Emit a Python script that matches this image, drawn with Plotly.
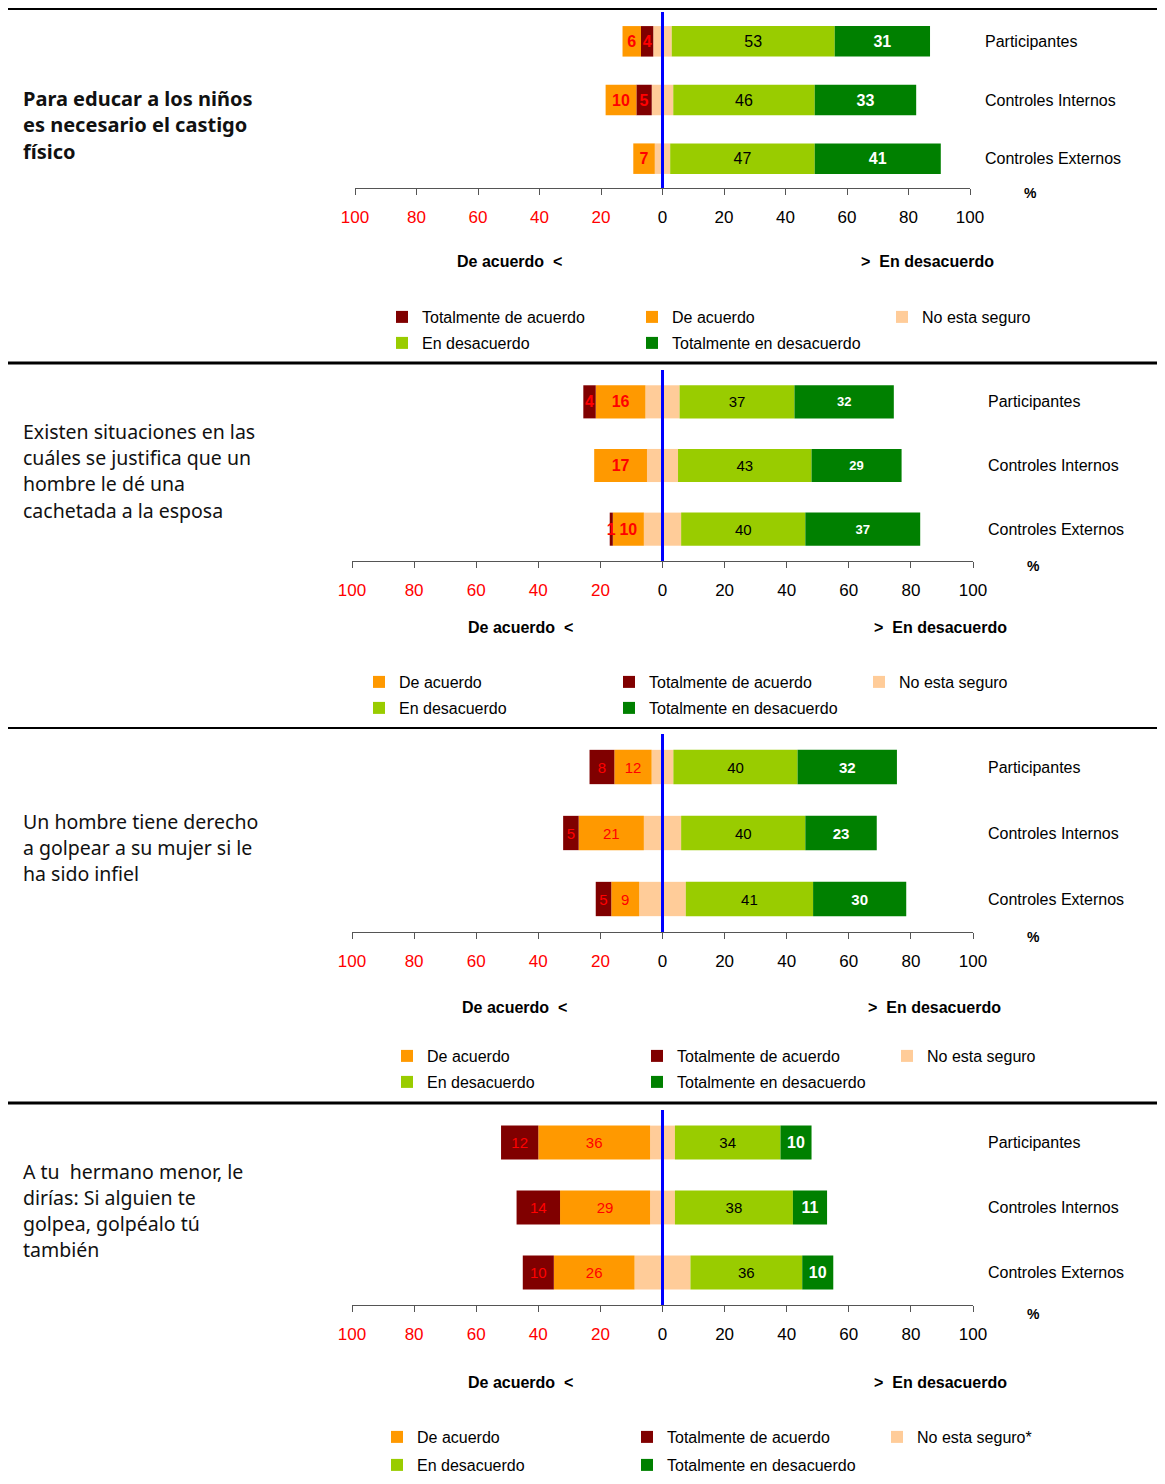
import plotly.graph_objects as go

# ---- data -------------------------------------------------------------
categories = ["Participantes", "Controles Internos", "Controles Externos"]

titles = [
    ["Para educar a los niños", "es necesario el castigo", "físico"],
    ["Existen situaciones en las", "cuáles se justifica que un",
     "hombre le dé una", "cachetada a la esposa"],
    ["Un hombre tiene derecho", "a golpear a su mujer si le", "ha sido infiel"],
    ["A tu  hermano menor, le", "dirías: Si alguien te",
     "golpea, golpéalo tú", "también"],
]

# Totalmente de acuerdo / De acuerdo / No esta seguro / En desacuerdo / Totalmente en desacuerdo
tot_acuerdo = [[4, 5, 0], [4, 0, 1], [8, 5, 5], [12, 14, 10]]
de_acuerdo = [[6, 10, 7], [16, 17, 10], [12, 21, 9], [36, 29, 26]]
no_seguro = [[6, 7, 5], [11, 10, 12], [7, 12, 15], [8, 8, 18]]
en_desacuerdo = [[53, 46, 47], [37, 43, 40], [40, 40, 41], [34, 38, 36]]
tot_desacuerdo = [[31, 33, 41], [32, 29, 37], [32, 23, 30], [10, 11, 10]]

unsure_names = ["No esta seguro", "No esta seguro", "No esta seguro", "No esta seguro*"]

tick_vals = [-100, -80, -60, -40, -20, 0, 20, 40, 60, 80, 100]
tick_text = ["100", "80", "60", "40", "20", "0", "20", "40", "60", "80", "100"]

# ---- styling / layout -------------------------------------------------
OFF = 8  # the page body adds an 8px margin around the figure
W, H = 1165 - OFF, 1484 - OFF
C_TOT_AC = "#800000"
C_AC = "#FF9900"
C_NS = "#FFCC99"
C_DES = "#99CC00"
C_TOT_DES = "#008000"
RED = "#FF0000"
FONT = "Liberation Sans, Arial, sans-serif"
TFONT = "Noto Sans, DejaVu Sans, sans-serif"

# pixel geometry of each panel (page coordinates)
panels = [
    dict(x0=355, x1=970, y0=12, y1=188, inner_dark=True, bold=True,
         title_y=98, step=27, lab_y=261, ac_x=509, des_x=927, pct=(1030, 193),
         leg_y=(317, 343), leg_x=382,
         fs_left=16, bold_left=True, fs_des=16, fs_tot=16),
    dict(x0=352, x1=973, y0=370, y1=561, inner_dark=False, bold=False,
         title_y=431, step=26.5, lab_y=628, ac_x=520, des_x=940, pct=(1033, 566),
         leg_y=(682, 708), leg_x=359,
         fs_left=16, bold_left=True, fs_des=15, fs_tot=13),
    dict(x0=352, x1=973, y0=734, y1=932, inner_dark=False, bold=False,
         title_y=821, step=26, lab_y=1007, ac_x=514, des_x=934, pct=(1033, 937),
         leg_y=(1056, 1082), leg_x=387,
         fs_left=15, bold_left=False, fs_des=15, fs_tot=15),
    dict(x0=352, x1=973, y0=1110, y1=1305, inner_dark=False, bold=False,
         title_y=1171, step=26, lab_y=1382, ac_x=520, des_x=941, pct=(1033, 1314),
         leg_y=(1437, 1465), leg_x=377,
         fs_left=15, bold_left=False, fs_des=15, fs_tot=16),
]
separators = [(8, 4), (363, 3), (728, 2), (1103, 3)]


def fx(p):
    return (p - OFF) / W


def fy(p):
    return 1 - (p - OFF) / H


def labels(vals):
    return [str(v) if v else "" for v in vals]


def note(text, x, y, font, xanchor="center"):
    return dict(text=text, x=fx(x), y=fy(y), xref="paper", yref="paper",
                xanchor=xanchor, yanchor="middle", showarrow=False, font=font)


fig = go.Figure()
annotations = []
shapes = []
layout = {}

for i, pn in enumerate(panels):
    n = "" if i == 0 else str(i + 1)
    xa, ya = "x" + n, "y" + n
    leg1 = "legend" if i == 0 else "legend%d" % (2 * i + 1)
    leg2 = "legend%d" % (2 * i + 2)

    bar = dict(orientation="h", y=categories, xaxis=xa, yaxis=ya, width=0.52,
               textposition="inside", insidetextanchor="middle", textangle=0,
               constraintext="none", marker_line_width=0, hoverinfo="x+name")
    left_font = dict(family=FONT, size=pn["fs_left"], color=RED,
                     weight="bold" if pn["bold_left"] else "normal")

    # left side, stacked away from zero
    fig.add_trace(go.Bar(x=[-v / 2 for v in no_seguro[i]], name=unsure_names[i],
                         marker_color=C_NS, legend=leg1, showlegend=False,
                         legendgroup="ns%d" % i, **bar))
    dark = go.Bar(x=[-v for v in tot_acuerdo[i]], name="Totalmente de acuerdo",
                  marker_color=C_TOT_AC, text=labels(tot_acuerdo[i]),
                  textfont=left_font, legend=leg1,
                  legendrank=1 if pn["inner_dark"] else 2, **bar)
    orange = go.Bar(x=[-v for v in de_acuerdo[i]], name="De acuerdo",
                    marker_color=C_AC, text=labels(de_acuerdo[i]),
                    textfont=left_font, legend=leg1,
                    legendrank=2 if pn["inner_dark"] else 1, **bar)
    if pn["inner_dark"]:
        fig.add_trace(dark)
        fig.add_trace(orange)
    else:
        fig.add_trace(orange)
        fig.add_trace(dark)

    # right side
    fig.add_trace(go.Bar(x=[v / 2 for v in no_seguro[i]], name=unsure_names[i],
                         marker_color=C_NS, legend=leg1, legendrank=3,
                         legendgroup="ns%d" % i, **bar))
    fig.add_trace(go.Bar(x=en_desacuerdo[i], name="En desacuerdo",
                         marker_color=C_DES, text=labels(en_desacuerdo[i]),
                         textfont=dict(family=FONT, size=pn["fs_des"], color="#000000"),
                         legend=leg2, legendrank=1, **bar))
    fig.add_trace(go.Bar(x=tot_desacuerdo[i], name="Totalmente en desacuerdo",
                         marker_color=C_TOT_DES, text=labels(tot_desacuerdo[i]),
                         textfont=dict(family=FONT, size=pn["fs_tot"], color="#FFFFFF",
                                       weight="bold"),
                         legend=leg2, legendrank=2, **bar))

    ticks = ['<span style="color:%s">%s</span>' % (RED, t) if v < 0 else t
             for v, t in zip(tick_vals, tick_text)]
    layout["xaxis" + n] = dict(
        domain=[fx(pn["x0"]), fx(pn["x1"])], range=[-100, 100], anchor=ya,
        tickvals=tick_vals, ticktext=ticks, showline=True, linecolor="#555555",
        linewidth=1, ticks="outside", ticklen=6, tickcolor="#555555",
        showgrid=False, zeroline=False, ticklabelstandoff=8, automargin=False,
        tickfont=dict(family=FONT, size=17, color="#000000"), fixedrange=True)
    layout["yaxis" + n] = dict(
        domain=[fy(pn["y1"]), fy(pn["y0"])], range=[2.5, -0.5], anchor=xa,
        side="right", showline=False, ticks="", showgrid=False, zeroline=False,
        ticklabelstandoff=14, automargin=False,
        tickfont=dict(family=FONT, size=16, color="#000000"), fixedrange=True)

    for k, ly in enumerate(pn["leg_y"]):
        layout[leg1 if k == 0 else leg2] = dict(
            orientation="h", x=fx(pn["leg_x"]), y=fy(ly), xanchor="left",
            yanchor="middle", entrywidth=205, traceorder="normal",
            font=dict(family=FONT, size=16, color="#000000"),
            bgcolor="rgba(0,0,0,0)", itemclick=False, itemdoubleclick=False)

    shapes.append(dict(type="line", xref=xa, yref=ya + " domain", x0=0, x1=0,
                       y0=0, y1=1, line=dict(color="#0000FF", width=3),
                       layer="above"))

    tfont = dict(family=TFONT, size=20 if pn["bold"] else 19.5, color="#111111",
                 weight="bold" if pn["bold"] else "normal")
    for j, line in enumerate(titles[i]):
        annotations.append(note(line, 21, pn["title_y"] + j * pn["step"], tfont,
                                xanchor="left"))
    bfont = dict(family=FONT, size=16, color="#000000", weight="bold")
    annotations.append(note("De acuerdo  <", pn["ac_x"], pn["lab_y"], bfont))
    annotations.append(note(">  En desacuerdo", pn["des_x"], pn["lab_y"], bfont))
    annotations.append(note("%", pn["pct"][0], pn["pct"][1],
                            dict(family=FONT, size=14, color="#000000", weight="bold")))

for ypix, w in separators:
    shapes.append(dict(type="line", xref="paper", yref="paper", x0=0, x1=1,
                       y0=fy(ypix), y1=fy(ypix), line=dict(color="#000000", width=w)))

fig.update_layout(
    width=W, height=H, margin=dict(l=0, r=0, t=0, b=0, autoexpand=False),
    barmode="relative", paper_bgcolor="white", plot_bgcolor="white",
    annotations=annotations, shapes=shapes, **layout)

fig.write_html("out.html")
